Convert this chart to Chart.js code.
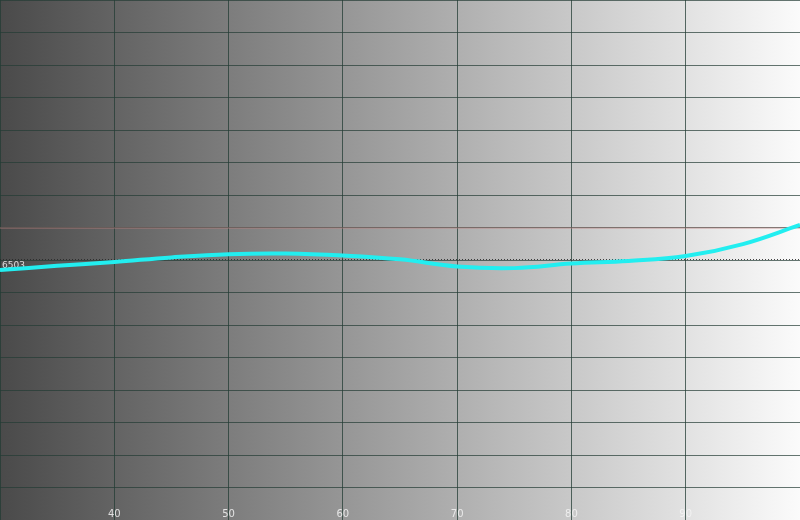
<!DOCTYPE html>
<html>
<head>
<meta charset="utf-8">
<script src="https://cdn.jsdelivr.net/npm/chart.js@4"></script>
<style>
html,body{margin:0;padding:0;background:#fff;}
#wrap{width:800px;height:520px;position:relative;}
</style>
</head>
<body>
<div id="wrap"><canvas id="c" width="800" height="520"></canvas></div>
<script>
// Data
const xValues = [30, 35, 40, 45, 50, 55, 60, 65, 70, 75, 80, 85, 90, 95, 100];
const cctValues = [6469, 6482, 6494, 6508, 6518, 6520, 6514, 6502, 6480, 6475, 6489, 6497, 6512, 6549, 6608];
const xTickLabels = [40, 50, 60, 70, 80, 90];
const averageValue = 6503;
const referenceValue = 6600;

const bgPlugin = {
  id: 'bg',
  beforeDraw(chart) {
    const {ctx, chartArea: a} = chart;
    const g = ctx.createLinearGradient(a.left, 0, a.right, 0);
    g.addColorStop(0, '#4a4a4a');
    g.addColorStop(1, '#fbfbfb');
    ctx.save();
    ctx.fillStyle = g;
    ctx.fillRect(0, 0, chart.width, chart.height);
    ctx.restore();
  }
};

const overlayPlugin = {
  id: 'overlay',
  beforeDatasetsDraw(chart) {
    const {ctx, chartArea: a, scales: {x, y}} = chart;
    ctx.save();
    // reference line
    const yr = y.getPixelForValue(referenceValue);
    ctx.strokeStyle = 'rgba(190,130,130,0.75)';
    ctx.lineWidth = 1;
    ctx.beginPath();
    ctx.moveTo(a.left, yr + 0.5);
    ctx.lineTo(a.right, yr + 0.5);
    ctx.stroke();
    // average dotted line
    const ya = Math.round(y.getPixelForValue(averageValue)) + 0.5;
    ctx.strokeStyle = 'rgba(40,40,40,0.85)';
    ctx.setLineDash([1, 2]);
    ctx.beginPath();
    ctx.moveTo(a.left, ya);
    ctx.lineTo(a.right, ya);
    ctx.stroke();
    ctx.setLineDash([]);
    ctx.fillStyle = 'rgba(235,235,235,0.9)';
    ctx.font = '9px "DejaVu Sans", sans-serif';
    ctx.textBaseline = 'top';
    ctx.textAlign = 'left';
    ctx.fillText(String(averageValue), 2, ya + 1.5);
    // x tick labels
    ctx.font = '10px "DejaVu Sans", sans-serif';
    ctx.textAlign = 'center';
    ctx.textBaseline = 'alphabetic';
    ctx.fillStyle = 'rgba(245,245,245,0.85)';
    xTickLabels.forEach(v => {
      ctx.fillText(String(v), x.getPixelForValue(v), a.bottom - 3);
    });
    ctx.restore();
  }
};

new Chart(document.getElementById('c'), {
  type: 'line',
  data: {
    datasets: [{
      data: xValues.map((v, i) => ({x: v, y: cctValues[i]})),
      borderColor: '#22eef0',
      borderWidth: 4,
      pointRadius: 0,
      tension: 0.4,
      fill: false
    }]
  },
  options: {
    responsive: false,
    animation: false,
    layout: {padding: 0},
    plugins: {legend: {display: false}, tooltip: {enabled: false}},
    scales: {
      x: {
        type: 'linear', min: 30, max: 100,
        ticks: {display: false, stepSize: 10},
        grid: {color: 'rgba(35,60,52,0.75)', drawTicks: false, lineWidth: 1},
        border: {display: false}
      },
      y: {
        min: 5700, max: 7300,
        ticks: {display: false, stepSize: 100},
        grid: {color: 'rgba(35,60,52,0.7)', drawTicks: false, lineWidth: 1},
        border: {display: false}
      }
    }
  },
  plugins: [bgPlugin, overlayPlugin]
});
</script>
</body>
</html>
